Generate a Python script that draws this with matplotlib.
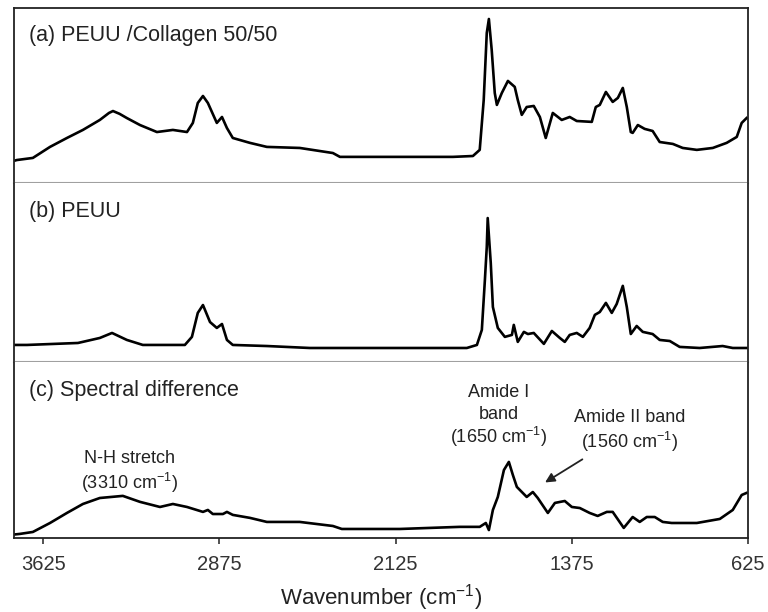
import matplotlib
matplotlib.use("Agg")
import matplotlib.pyplot as plt
import numpy as np

plt.rcParams["font.family"] = ["Liberation Sans", "DejaVu Sans"]
plt.rcParams["mathtext.default"] = "regular"

# spectra: wavenumber (cm-1) and relative absorbance per panel
wn_a = [3745, 3737, 3669, 3596, 3524, 3456, 3384, 3345, 3328, 3300, 3269, 3213, 3141, 3073, 3013, 2988,
        2967, 2945, 2924, 2886, 2864, 2843, 2818, 2745, 2673, 2533, 2392, 2362, 2107, 2052,
        1881, 1796, 1767, 1750, 1737, 1728, 1716, 1703, 1694, 1673, 1647, 1618, 1605, 1588,
        1567, 1537, 1511, 1486, 1456, 1418, 1384, 1354, 1290, 1273, 1256, 1230, 1201, 1179,
        1158, 1141, 1124, 1116, 1094, 1065, 1031, 1001, 945, 903, 843, 775, 716, 673, 652, 631]
abs_a = [0.128, 0.131, 0.143, 0.206, 0.257, 0.303, 0.360, 0.400, 0.411, 0.395, 0.371, 0.331, 0.291, 0.303, 0.291, 0.343,
         0.457, 0.497, 0.457, 0.343, 0.377, 0.314, 0.257, 0.229, 0.206, 0.200, 0.171, 0.149, 0.149, 0.149,
         0.149, 0.154, 0.189, 0.474, 0.857, 0.937, 0.760, 0.514, 0.446, 0.514, 0.583, 0.549, 0.474, 0.389,
         0.434, 0.440, 0.377, 0.257, 0.400, 0.360, 0.377, 0.354, 0.349, 0.434, 0.446, 0.520, 0.463, 0.486,
         0.543, 0.434, 0.291, 0.286, 0.331, 0.309, 0.297, 0.234, 0.223, 0.200, 0.189, 0.200, 0.229, 0.263, 0.343, 0.371]

wn_b = [3745, 3737, 3694, 3477, 3384, 3332, 3269, 3201, 3022, 2992, 2967, 2945, 2915, 2886,
        2864, 2843, 2818, 2673, 2490, 2107, 1822, 1779, 1758, 1745, 1737, 1733, 1720, 1711,
        1690, 1660, 1630, 1622, 1605, 1579, 1562, 1537, 1494, 1460, 1426, 1405, 1384, 1354,
        1328, 1299, 1277, 1256, 1230, 1205, 1184, 1158, 1141, 1124, 1099, 1073, 1031, 1001,
        958, 916, 831, 733, 690, 631]
abs_b = [0.095, 0.095, 0.095, 0.106, 0.134, 0.162, 0.123, 0.095, 0.095, 0.140, 0.274, 0.318, 0.223, 0.190,
         0.212, 0.123, 0.095, 0.089, 0.078, 0.078, 0.078, 0.095, 0.179, 0.458, 0.642, 0.804, 0.553, 0.307,
         0.190, 0.140, 0.151, 0.207, 0.112, 0.168, 0.156, 0.162, 0.101, 0.173, 0.134, 0.112, 0.151, 0.162,
         0.140, 0.190, 0.263, 0.279, 0.330, 0.274, 0.324, 0.425, 0.307, 0.156, 0.201, 0.168, 0.156, 0.123,
         0.117, 0.084, 0.078, 0.089, 0.078, 0.078]

wn_c = [3745, 3724, 3669, 3596, 3524, 3456, 3384, 3286, 3213, 3128, 3073, 3013, 2945, 2924,
        2903, 2860, 2843, 2818, 2745, 2673, 2533, 2392, 2354, 2107, 1852, 1767, 1741, 1728,
        1711, 1690, 1664, 1643, 1626, 1609, 1567, 1541, 1520, 1477, 1447, 1405, 1375, 1341,
        1299, 1265, 1226, 1201, 1154, 1116, 1086, 1056, 1022, 988, 950, 843, 745, 690, 652, 631]
abs_c = [0.020, 0.023, 0.034, 0.085, 0.142, 0.193, 0.227, 0.239, 0.205, 0.176, 0.193, 0.176, 0.148, 0.159,
         0.136, 0.136, 0.148, 0.131, 0.114, 0.091, 0.091, 0.068, 0.051, 0.051, 0.063, 0.063, 0.085, 0.045,
         0.159, 0.233, 0.386, 0.432, 0.358, 0.290, 0.233, 0.261, 0.227, 0.142, 0.199, 0.210, 0.176, 0.170,
         0.142, 0.125, 0.148, 0.148, 0.057, 0.119, 0.091, 0.119, 0.119, 0.091, 0.085, 0.085, 0.108, 0.159, 0.244, 0.256]

panel_labels = ["(a) PEUU /Collagen 50/50", "(b) PEUU", "(c) Spectral difference"]
x_ticks = [3625, 2875, 2125, 1375, 625]

fig = plt.figure(figsize=(7.68, 6.12), dpi=100)
gs = fig.add_gridspec(3, 1, height_ratios=[175, 179, 176], hspace=0,
                      left=0.018, right=0.974, top=0.987, bottom=0.121)
axes = [fig.add_subplot(gs[i]) for i in range(3)]

frame = "#222222"
divider = "#a0a0a0"
for i, (ax, wn, ab, label) in enumerate(zip(axes, (wn_a, wn_b, wn_c), (abs_a, abs_b, abs_c), panel_labels)):
    ax.plot(wn, ab, color="black", linewidth=1.9, solid_joinstyle="round")
    ax.set_xlim(3750, 625)
    ax.set_ylim(0, 1)
    ax.set_yticks([])
    for side in ("left", "right", "top", "bottom"):
        ax.spines[side].set_color(frame)
        ax.spines[side].set_linewidth(1.3)
    if i > 0:
        ax.spines["top"].set_visible(False)
    if i < 2:
        ax.spines["bottom"].set_color(divider)
        ax.spines["bottom"].set_linewidth(1.5)
        ax.set_xticks([])
    ax.text(0.020, 0.84, label, transform=ax.transAxes, fontsize=15.5, va="center", ha="left", color="#222222")

ax_c = axes[2]
ax_c.set_xticks(x_ticks)
ax_c.set_xticklabels([str(t) for t in x_ticks])
ax_c.tick_params(axis="x", direction="out", length=4, width=1.2, labelsize=14.5, pad=8, colors="#333333")
ax_c.set_xlabel("Wavenumber (cm$^{-1}$)", fontsize=16, labelpad=6, color="#222222")

ann = dict(fontsize=13, ha="center", va="center", color="#222222")
ax_c.text(3256, 0.449, "N-H stretch", **ann)
ax_c.text(3256, 0.313, "(3310 cm$^{-1}$)", **ann)
ax_c.text(1686, 0.824, "Amide I", **ann)
ax_c.text(1686, 0.699, "band", **ann)
ax_c.text(1686, 0.574, "(1650 cm$^{-1}$)", **ann)
ax_c.text(1128, 0.682, "Amide II band", **ann)
ax_c.text(1128, 0.545, "(1560 cm$^{-1}$)", **ann)
ax_c.annotate("", xy=(1499, 0.307), xytext=(1320, 0.455),
              arrowprops=dict(arrowstyle="-|>", color="#222222", lw=1.3, mutation_scale=14))

fig.savefig("out.png", dpi=100)
